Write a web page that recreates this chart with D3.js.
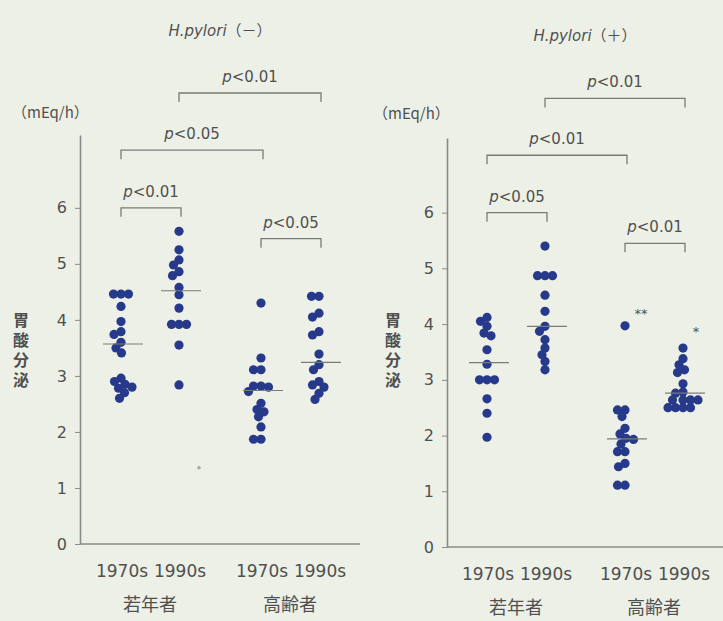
<!DOCTYPE html>
<html>
<head>
<meta charset="utf-8">
<script src="https://cdn.jsdelivr.net/npm/d3@7"></script>
<style>
  body { margin: 0; background: #edf0e6; }
  svg { display: block; }
  text { fill: #505050; font-family: "DejaVu Sans", sans-serif; }
  .jp { font-family: "Noto Sans CJK JP", sans-serif; }
</style>
</head>
<body>
<div id="chart"></div>
<script>
// categories
const ageGroups = ["若年者", "高齢者"];
const decades = ["1970s", "1990s"];
const yTicks = [0, 1, 2, 3, 4, 5, 6];

// H.pylori(-) : gastric acid output (mEq/h)
const negYoung70 = [4.46, 4.46, 4.46, 4.24, 3.97, 3.79, 3.74, 3.6, 3.5, 3.41, 2.96, 2.9, 2.85, 2.8, 2.78, 2.7, 2.6];
const negYoung90 = [5.58, 5.25, 5.07, 4.98, 4.86, 4.79, 4.58, 4.45, 4.21, 3.92, 3.92, 3.92, 3.55, 2.84];
const negOld70 = [4.3, 3.32, 3.11, 3.11, 2.82, 2.82, 2.8, 2.72, 2.51, 2.4, 2.36, 2.27, 2.09, 1.87, 1.87];
const negOld90 = [4.42, 4.42, 4.12, 4.05, 3.79, 3.73, 3.39, 3.2, 3.11, 2.9, 2.84, 2.8, 2.69, 2.58];
const negMeans = [3.57, 4.52, 2.74, 3.24];

// H.pylori(+)
const posYoung70 = [4.12, 4.05, 3.96, 3.84, 3.79, 3.54, 3.28, 3.0, 3.0, 3.0, 2.66, 2.4, 1.97];
const posYoung90 = [5.4, 4.87, 4.87, 4.87, 4.52, 4.23, 3.96, 3.87, 3.72, 3.57, 3.45, 3.33, 3.18];
const posOld70 = [3.97, 2.46, 2.46, 2.34, 2.13, 2.03, 1.95, 1.93, 1.85, 1.71, 1.71, 1.5, 1.44, 1.11, 1.11];
const posOld90 = [3.57, 3.38, 3.27, 3.18, 3.13, 2.93, 2.78, 2.76, 2.64, 2.64, 2.64, 2.64, 2.5, 2.5, 2.5, 2.5];
const posMeans = [3.31, 3.96, 1.94, 2.76];

// significance brackets: [from group, to group, label]
const negBrackets = [[1, 3, "<0.01"], [0, 2, "<0.05"], [0, 1, "<0.01"], [2, 3, "<0.05"]];
const posBrackets = [[1, 3, "<0.01"], [0, 2, "<0.01"], [0, 1, "<0.05"], [2, 3, "<0.01"]];

const W = 723, H = 621;
const svg = d3.select("#chart").append("svg").attr("width", W).attr("height", H);

const bracketLevels = [8.05, 7.03, 6.0, 5.45];

// simple dot-plot layout: push a dot sideways until it clears the ones already placed
function swarm(vals, y, gap) {
  const placed = [];
  const offs = [0];
  for (let k = 1; k <= 60; k++) offs.push(-k * 0.5, k * 0.5);
  return vals.slice().sort((a, b) => b - a).map(v => {
    const py = y(v);
    let dx = 0;
    for (const o of offs) {
      if (placed.every(p => Math.hypot(p.dx - o, p.py - py) >= gap)) { dx = o; break; }
    }
    placed.push({ dx, py });
    return { v, dx };
  });
}

function panel(cfg) {
  const g = svg.append("g");
  const y = d3.scaleLinear().domain([0, cfg.vMax]).range([cfg.y0, cfg.yTop]);
  const xOuter = d3.scalePoint().domain(ageGroups).range([cfg.x0, cfg.x1]).padding(0.5);
  const xInner = d3.scalePoint().domain(decades).range([-29, 29]);
  const keys = [];
  ageGroups.forEach(a => decades.forEach(d => keys.push([a, d])));
  const cx = i => xOuter(keys[i][0]) + xInner(keys[i][1]);

  // y axis
  const yAxis = d3.axisLeft(y).tickValues(yTicks).tickSize(5).tickPadding(8).tickSizeOuter(0);
  const ya = g.append("g").attr("transform", `translate(${cfg.x0},0)`).call(yAxis);
  ya.select(".domain").attr("stroke", "#8a8a8a").attr("stroke-width", 1.6);
  ya.selectAll(".tick line").attr("stroke", "#8a8a8a");
  ya.selectAll(".tick text").attr("font-size", 16).attr("fill", "#505050")
    .attr("font-family", "DejaVu Sans, sans-serif");

  // x axis line + category labels
  g.append("line").attr("x1", cfg.x0).attr("x2", cfg.x1).attr("y1", cfg.y0).attr("y2", cfg.y0)
    .attr("stroke", "#8a8a8a").attr("stroke-width", 1.6);
  keys.forEach((k, i) => {
    g.append("text").attr("x", cx(i) + 1).attr("y", cfg.y0 + 33).attr("text-anchor", "middle")
      .attr("font-size", 17).text(k[1]);
  });
  ageGroups.forEach(a => {
    g.append("text").attr("class", "jp").attr("x", xOuter(a)).attr("y", cfg.y0 + 67)
      .attr("text-anchor", "middle").attr("font-size", 18).text(a);
  });

  // dots + mean lines
  cfg.series.forEach((vals, i) => {
    const pts = swarm(vals, y, 7.2);
    g.append("g").selectAll("circle").data(pts).join("circle")
      .attr("cx", d => cx(i) + d.dx).attr("cy", d => y(d.v)).attr("r", 4.6)
      .attr("fill", "#27398a");
    g.append("line").attr("x1", cx(i) - 18).attr("x2", cx(i) + 22)
      .attr("y1", y(cfg.means[i])).attr("y2", y(cfg.means[i]))
      .attr("stroke", "#7a7a7a").attr("stroke-width", 1.2);
  });

  // brackets
  cfg.brackets.forEach((b, j) => {
    const by = y(bracketLevels[j]);
    const xa = cx(b[0]), xb = cx(b[1]) + 2;
    g.append("path").attr("d", `M${xa},${by + 9}V${by}H${xb}V${by + 9}`)
      .attr("fill", "none").attr("stroke", "#7a7a7a").attr("stroke-width", 1.3);
    const t = g.append("text").attr("x", (xa + xb) / 2).attr("y", by - 11)
      .attr("text-anchor", "middle").attr("font-size", 15);
    t.append("tspan").attr("font-style", "italic").text("p");
    t.append("tspan").text(b[2]);
  });

  // title, unit, y label
  const tt = g.append("text").attr("x", cfg.titleX).attr("y", cfg.titleY).attr("text-anchor", "middle")
    .attr("font-size", 15);
  tt.append("tspan").attr("font-style", "italic").text("H.pylori");
  tt.append("tspan").attr("class", "jp").text(cfg.sign);

  g.append("text").attr("class", "jp").attr("x", cfg.unitX).attr("y", cfg.unitY)
    .attr("font-size", 15).text("（mEq/h）");

  g.append("text").attr("class", "jp").attr("x", cfg.labX).attr("y", 312)
    .attr("font-size", 16).attr("font-weight", 700).attr("fill", "#5a5a5a")
    .style("writing-mode", "vertical-rl").style("letter-spacing", "4px")
    .text("胃酸分泌");

  (cfg.marks || []).forEach(m => {
    g.append("text").attr("x", cx(m[0]) + m[2]).attr("y", y(m[1]) + 6)
      .attr("text-anchor", "middle").attr("font-size", 13).attr("fill", "#9a9a9a").text(m[3]);
  });
  return { y, cx, g };
}

const left = panel({
  x0: 80, x1: 360, y0: 544, yTop: 135, vMax: 7.3,
  series: [negYoung70, negYoung90, negOld70, negOld90], means: negMeans, brackets: negBrackets,
  titleX: 220, titleY: 36, sign: "（－）", unitX: 12, unitY: 118, labX: 21
});
// faint stray mark in the H.pylori(-) panel
left.g.append("circle").attr("cx", left.cx(1) + 20).attr("cy", left.y(1.36)).attr("r", 1.8)
  .attr("fill", "#a8a8a8");

panel({
  x0: 447, x1: 723, y0: 547, yTop: 138, vMax: 7.34,
  series: [posYoung70, posYoung90, posOld70, posOld90], means: posMeans, brackets: posBrackets,
  titleX: 585, titleY: 41, sign: "（＋）", unitX: 373, unitY: 119, labX: 393,
  marks: [[2, 4.22, 16, "**"], [3, 3.9, 13, "*"]]
});
</script>
</body>
</html>
